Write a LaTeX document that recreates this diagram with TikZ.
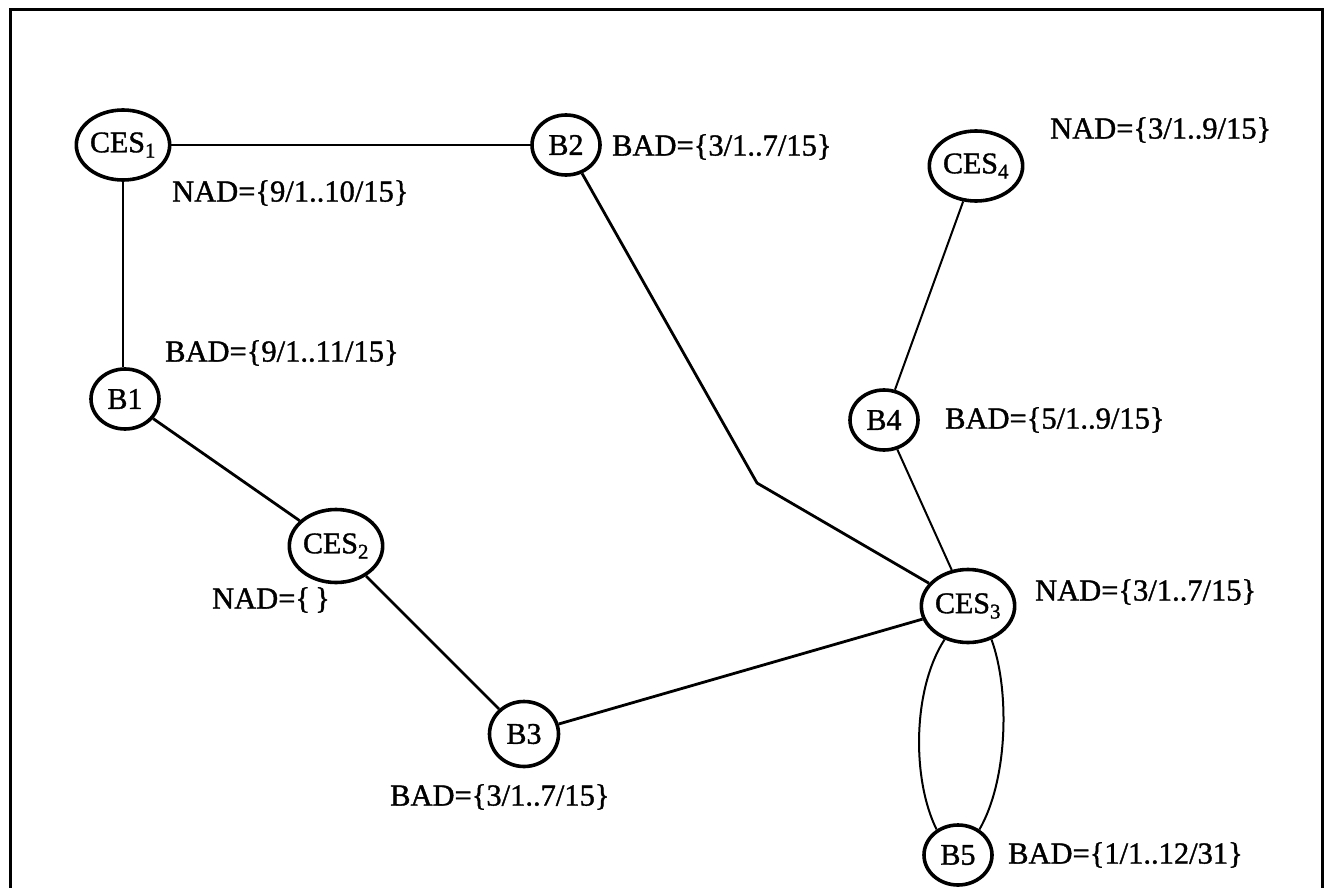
\documentclass[tikz,border=0pt]{standalone}
\usepackage{fontspec}
\setmainfont{Liberation Serif}[FakeBold=1.2]
\usetikzlibrary{shapes.geometric}
\begin{document}
\begin{tikzpicture}[x=1pt,y=-1pt,
  site/.style={ellipse,draw,line width=3.6pt,inner sep=0pt,font=\fontsize{30}{36}\selectfont},
  ces/.style={site,minimum width=86pt,minimum height=70pt},
  bus/.style={site,minimum width=68pt,minimum height=60pt},
  note/.style={anchor=west,inner sep=0pt,font=\fontsize{30.5}{37}\selectfont},
  link/.style={line width=2.8pt},
  thin link/.style={line width=2pt}]
\useasboundingbox (0,0) rectangle (1336,888);
% open frame
\draw[line width=3pt] (10,888) -- (10,10) -- (1322,10) -- (1322,888);

% stations and buses
\node[ces] (ces1) at (123,145) {CES\textsubscript{1}};
\node[ces,minimum width=89pt,minimum height=73pt] (ces2) at (336,546) {CES\textsubscript{2}};
\node[ces,minimum height=73pt] (ces3) at (968,606) {CES\textsubscript{3}};
\node[ces,minimum width=78pt] (ces4) at (976,166) {CES\textsubscript{4}};
\node[bus] (b1) at (125,399) {B1};
\node[bus] (b2) at (566,145) {B2};
\node[bus,minimum width=69pt,minimum height=65pt] (b3) at (524,734) {B3};
\node[bus] (b4) at (884,420) {B4};
\node[bus] (b5) at (958,855) {B5};
\coordinate (kink) at (757,483);

% availability sets
\node[note] (n1) at (172,193) {NAD=\{9/1..10/15\}};
\node[note] (n2) at (612,147) {BAD=\{3/1..7/15\}};
\node[note] (n3) at (1050,130) {NAD=\{3/1..9/15\}};
\node[note] (n4) at (165,353) {BAD=\{9/1..11/15\}};
\node[note] (n5) at (945,420) {BAD=\{5/1..9/15\}};
\node[note] (n6) at (212,600) {NAD=\{\,\}};
\node[note] (n7) at (1035,592) {NAD=\{3/1..7/15\}};
\node[note] (n8) at (390,797) {BAD=\{3/1..7/15\}};
\node[note] (n9) at (1008,855) {BAD=\{1/1..12/31\}};

% links
\draw[thin link] (ces1.south) -- (ces1.south |- b1.north);
\draw[link] (ces1.east) -- (b2.west);
\draw[link] (b2) -- (kink) -- (ces3);
\draw[link] (b1) -- (ces2);
\draw[link] (ces2) -- (b3);
\draw[link] (b3) -- (ces3);
\draw[thin link] (ces4) -- (b4);
\draw[thin link] (b4) -- (ces3);
\draw[thin link] (ces3.235) .. controls (912,690) and (912,780) .. (b5.130);
\draw[thin link] (ces3.305) .. controls (1010,690) and (1008,780) .. (b5.50);
\end{tikzpicture}
\end{document}
